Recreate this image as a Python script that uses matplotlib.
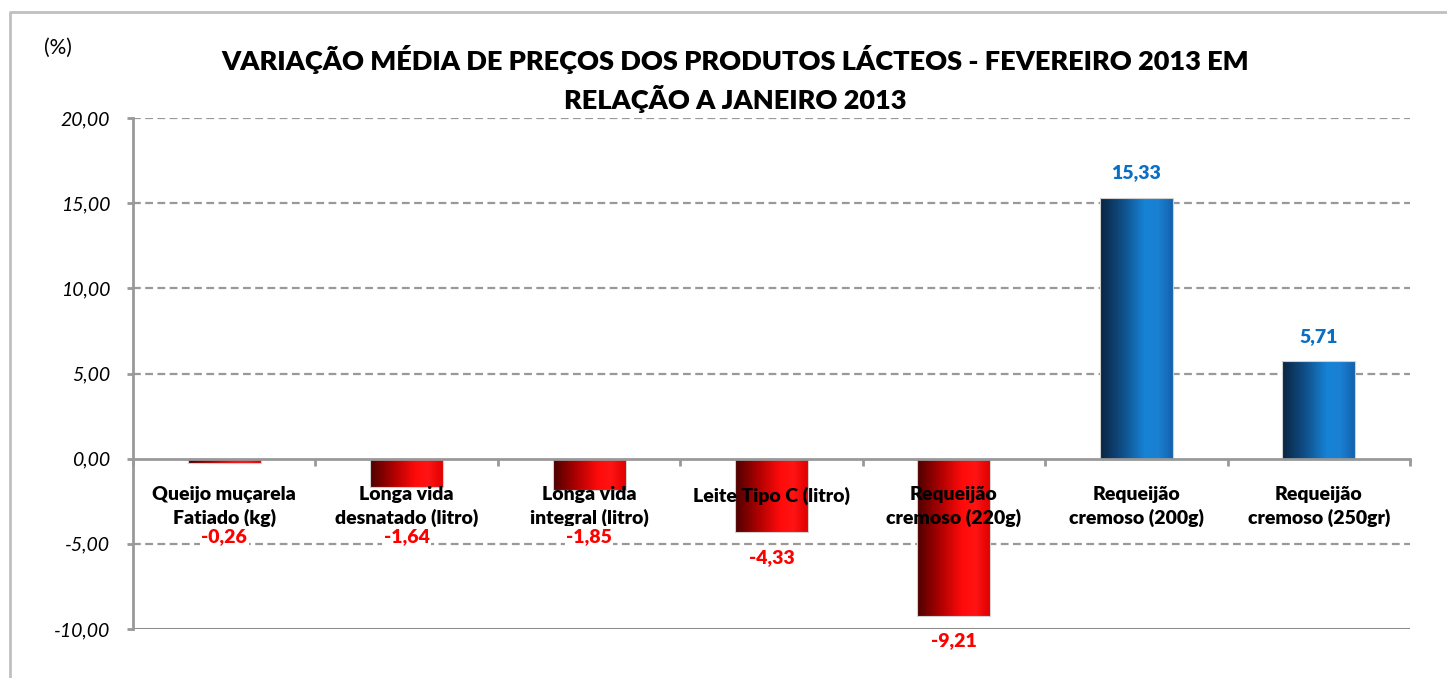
import numpy as np
import matplotlib
matplotlib.use("Agg")
import matplotlib.pyplot as plt
from matplotlib.colors import LinearSegmentedColormap
from matplotlib.lines import Line2D

plt.rcParams['font.family'] = ['Lato', 'DejaVu Sans']

# data
categories = ["Queijo muçarela\nFatiado (kg)",
              "Longa vida\ndesnatado (litro)",
              "Longa vida\nintegral (litro)",
              "Leite Tipo C (litro)",
              "Requeijão\ncremoso (220g)",
              "Requeijão\ncremoso (200g)",
              "Requeijão\ncremoso (250gr)"]
values = [-0.26, -1.64, -1.85, -4.33, -9.21, 15.33, 5.71]
yticks = [-10, -5, 0, 5, 10, 15, 20]

title = "VARIAÇÃO MÉDIA DE PREÇOS DOS PRODUTOS LÁCTEOS - FEVEREIRO 2013 EM\nRELAÇÃO A JANEIRO 2013"

red_cmap = LinearSegmentedColormap.from_list(
    "reds", [(0, "#4d0000"), (0.3, "#a80000"), (0.62, "#ff0a0a"),
             (0.8, "#ff1414"), (1, "#e00000")])
blue_cmap = LinearSegmentedColormap.from_list(
    "blues", [(0, "#0a2440"), (0.3, "#0f4d85"), (0.62, "#1683d6"),
              (0.8, "#1a80d2"), (1, "#1462ad")])

fig = plt.figure(figsize=(14.47, 6.78), dpi=100)
ax = fig.add_axes([133 / 1447, 1 - 629 / 678, (1410 - 133) / 1447, (629 - 118) / 678])

x = np.arange(len(values))
ymin, ymax = yticks[0], yticks[-1]

bars = ax.bar(x, values, width=0.4, color='none', edgecolor='#d0d0d0',
              linewidth=0.8, zorder=2)

# horizontal shading inside each bar
grad = np.linspace(0, 1, 256).reshape(1, -1)
for b, v in zip(bars, values):
    cmap = blue_cmap if v > 0 else red_cmap
    x0, y0 = b.get_x(), b.get_y()
    im = ax.imshow(grad, extent=[x0, x0 + b.get_width(), y0, y0 + b.get_height()],
                   aspect='auto', cmap=cmap, zorder=1.9, interpolation='bilinear')
    im.set_clip_path(b)

# value labels
for xi, v in zip(x, values):
    s = f"{v:.2f}".replace('.', ',')
    if v > 0:
        ax.text(xi, v + 1.45, s, ha='center', va='center', color='#0b70c4',
                fontsize=14, fontweight='heavy', zorder=5)
    else:
        ax.text(xi, min(v - 1.5, -4.55), s, ha='center', va='center', color='#ff0000',
                fontsize=14, fontweight='heavy', zorder=5,
                bbox=dict(facecolor='white', edgecolor='none', pad=1.0))

ax.set_xlim(-0.5, len(values) - 0.5)
ax.set_ylim(ymin, ymax)

# grid
ax.set_yticks(yticks)
ax.set_yticklabels([f"{t:.2f}".replace('.', ',') for t in yticks],
                   fontstyle='italic', fontsize=14)
for t in yticks[1:]:
    if t != 0:
        ax.axhline(t, color='#999999', linestyle=(0, (3.5, 2)), linewidth=1.6, zorder=1)
ax.axhline(ymin, color='#8c8c8c', linewidth=2.2, zorder=1)

# axes: x axis at zero
for side in ['top', 'right']:
    ax.spines[side].set_visible(False)
ax.spines['bottom'].set_position(('data', 0))
ax.spines['bottom'].set_color('#999999')
ax.spines['bottom'].set_linewidth(2)
ax.spines['left'].set_color('#999999')
ax.spines['left'].set_linewidth(2)
ax.xaxis.set_zorder(4)

ax.set_xticks(np.arange(len(values) + 1) - 0.5)
ax.set_xticklabels([])
ax.set_xticks(x, categories, minor=True)
ax.tick_params(axis='x', which='major', direction='out', length=5, width=2, color='#999999')
ax.tick_params(axis='x', which='minor', length=0, pad=20, labelsize=14)
for lbl in ax.get_xticklabels(minor=True):
    lbl.set_fontweight('heavy')
    lbl.set_linespacing(1.35)
ax.tick_params(axis='y', direction='out', length=4.5, width=2, color='#999999', pad=12)

fig.text(735 / 1447, 1 - 79 / 678, title, ha='center', va='center',
         fontsize=19.5, fontweight='heavy', linespacing=1.42)
fig.text(58 / 1447, 1 - 48 / 678, "(%)", ha='center', va='center', fontsize=15)

# outer frame
fig.add_artist(Line2D([10 / 1447, 10 / 1447, 1], [0, 1 - 12 / 678, 1 - 12 / 678],
                      color='#c0c0c0', linewidth=2, transform=fig.transFigure))

fig.savefig("out.png", dpi=100)
